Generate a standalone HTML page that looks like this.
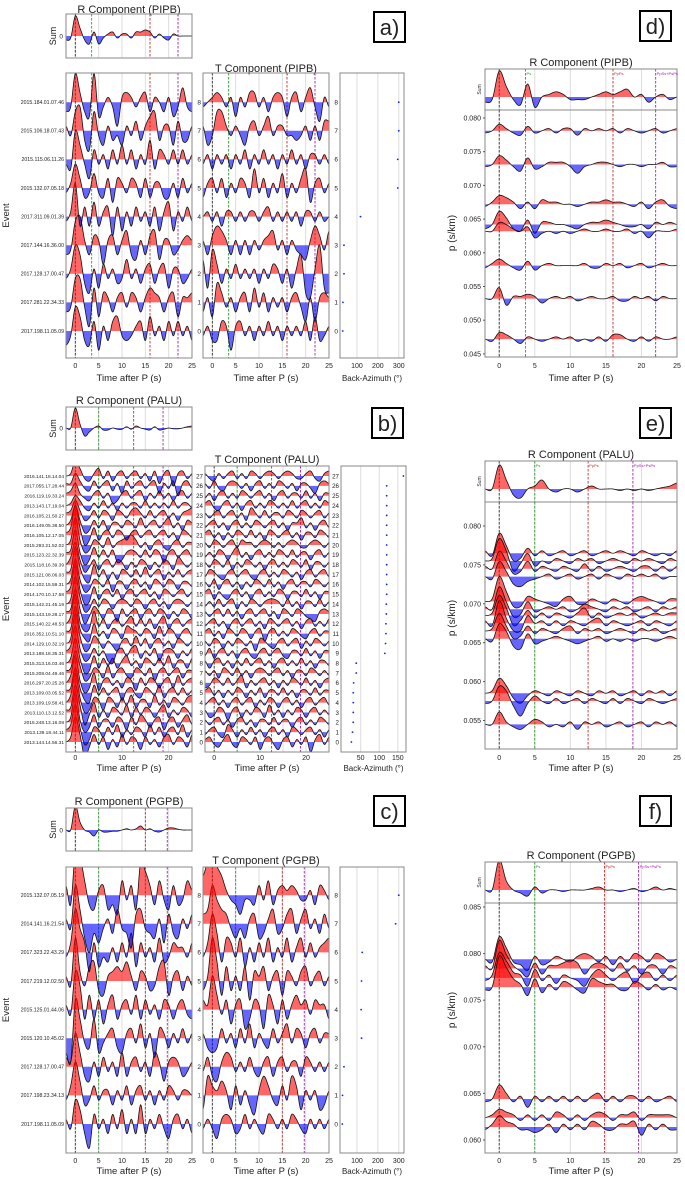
<!DOCTYPE html>
<html><head><meta charset="utf-8"><style>
html,body{margin:0;padding:0;background:#fff;}
svg{display:block;font-family:"Liberation Sans",sans-serif;}
</style></head><body>
<svg id="fig" width="685" height="1177" viewBox="0 0 685 1177" xmlns="http://www.w3.org/2000/svg"></svg>
<script>
// ---------- DATA (amplitudes sampled every 1 s from -2 s to 25 s) ----------
const aSum=[-1,-0.5,5,2,-1,-2,1,-2,-0.5,0.5,1,-0.5,0.5,0.5,-0.5,1,1,1.5,1,-0.5,0.5,-0.5,-1,0.5,0,0,0,0];
const aR=[
[-3,-1,5,3,-2,-3,2,-4,1,-2,2,3,-1,-2,-1,1,2,-2,3,-1,1,-2,2,-1,2,-1,1,-2],
[-2,-1,5,5,-1,-5,3,-3,2,1,-2,1,2,-1,2,1,-2,1,3,2,1,-2,1,2,-3,1,1,2],
[-1,1,6,4,-2,-4,1,-3,2,-1,1,-2,-1,3,-1,1,-2,1,2,-2,1,2,-3,1,1,-2,-1,1],
[-2,-1,5,6,1,-2,2,1,-4,1,2,-2,1,3,-2,-3,1,-2,2,3,-3,1,1,-2,-1,1,2,1],
[-1,1,7,-2,2,-2,3,-2,1,2,-4,2,-3,1,-2,2,-1,1,-2,2,-3,1,3,-3,1,-1,2,-1],
[-1,1,5,2,-2,-1,3,-1,-2,2,-3,2,1,-1,2,1,-2,2,-2,1,1,-2,-2,1,-2,2,-1,1],
[-1,-2,6,3,-1,-4,2,-1,1,-2,2,-1,3,-1,2,-2,1,-1,4,-2,2,1,-1,2,-1,2,-1,1],
[1,-1,4,5,-2,-4,4,-1,-3,1,-2,-1,-3,1,-1,2,-2,1,3,4,-2,1,1,-3,2,-2,-2,1],
[-2,-1,6,2,-2,-3,6,-3,-1,1,-1,-5,1,2,1,-1,1,2,-2,1,0,-2,1,-3,-1,3,-1,-2]];
const aT=[
[-1,1,-2,-2,2,1,-4,1,2,-1,1,-2,1,-1,2,-1,1,-2,1,-1,1,-1,2,-2,3,-2,-1,1],
[-2,1,-3,4,2,-1,1,-2,1,2,-2,3,-1,2,-2,1,-1,1,-2,1,2,-1,-4,1,-4,1,2,1],
[3,-3,5,2,-2,1,-1,2,-1,1,-1,1,-2,1,-1,2,1,-2,1,-3,1,4,-4,-5,1,6,-3,-4],
[1,-2,2,4,3,1,-2,1,-2,1,-2,1,-1,1,2,3,-1,1,-2,1,-1,-2,-3,1,4,2,-1,3],
[0,1,-1,1,-2,1,1,-1,1,-1,1,1,-1,1,2,-1,1,-1,1,-1,1,-2,1,1,-1,1,-1,0],
[-2,1,2,-1,2,-2,1,-1,2,1,-2,4,-1,2,-2,1,-1,3,-2,1,-1,2,4,-3,1,2,-1,1],
[-1,1,-2,1,-1,1,-2,1,-1,2,-2,1,-1,2,-1,1,-2,1,-1,2,-1,1,-2,1,1,-1,1,-1],
[1,-3,-1,4,4,1,-1,1,-1,-3,1,2,-1,1,3,-1,1,1,-1,-1,-2,-1,1,-2,1,-2,2,2],
[-1,0,1,2,1,-1,1,-3,1,-1,2,2,-1,1,-2,1,2,1,-3,1,2,-2,1,3,-1,-4,1,-1]];
const aEvents=["2017.198.11.05.09","2017.281.22.34.33","2017.128.17.00.47","2017.144.16.36.00","2017.311.09.01.39","2015.132.07.05.18","2015.115.06.11.26","2015.106.18.07.43","2015.184.01.07.46"];
const aBaz=[32,33,38,38,117,295,295,300,300];

const bSum=[0,0,5,1,-2,-1,0,0.5,-0.5,-0.5,0,-0.3,-0.3,0.3,-0.3,0.5,0,-0.3,-0.5,0.3,-0.5,-0.3,0,-0.2,-0.2,0,0.3,0.5];
const bR=[
[0,2,10,3,-6,-2,3,-1,2,-3,1,-2,3,-1,2,1,-3,2,-1,1,-2,2,3,-1,2,1,-2,3],
[1,3,11,2,-5,-3,2,1,-2,2,-1,3,-2,1,-1,2,1,-2,3,-1,2,-2,1,2,-1,3,-2,1],
[0,2,12,1,-4,-2,3,-2,1,1,-2,2,1,-3,2,-1,3,1,-2,1,2,-3,1,2,-2,1,3,-1],
[1,2,11,3,-5,-1,4,-2,1,-2,2,1,-1,3,-2,2,-1,2,1,-2,1,3,-2,1,-1,2,1,-2],
[0,3,12,2,-4,-3,2,1,-3,2,1,-2,2,-1,3,-2,1,1,-2,3,-1,1,-2,2,1,-1,2,3],
[1,2,10,2,-3,-4,3,-1,2,-1,1,2,-3,1,2,-1,-2,2,1,-1,3,-2,1,2,-1,2,-1,1],
[0,3,11,1,-4,-2,4,-3,1,2,-1,1,-2,2,1,-3,2,-1,2,1,-2,1,2,-2,3,-1,1,2],
[1,2,9,3,-3,-2,2,1,-2,3,-2,1,2,-1,-2,2,1,-1,2,-3,1,2,-1,1,2,-2,1,1],
[0,2,10,2,-4,-3,3,-2,2,-1,2,-2,1,3,-1,1,-2,2,1,-1,2,-1,3,-2,1,1,-2,2],
[1,3,11,2,-3,-2,2,-1,1,-3,-4,1,2,-1,2,3,-2,1,-1,2,-3,1,2,1,-2,1,-1,2],
[0,2,12,3,-3,-2,3,1,-2,1,-1,-3,1,2,-1,3,-1,2,-2,1,2,-1,1,-2,2,1,-1,1],
[1,2,11,2,-2,-3,4,-1,1,-2,2,1,-2,3,2,1,-1,2,1,-2,3,-1,2,1,-2,1,2,-1],
[0,3,12,1,-3,-2,5,-1,2,-2,1,2,-1,1,3,-1,2,-1,2,-2,1,3,-2,1,2,-1,1,2],
[1,2,10,2,-4,-1,3,1,-2,2,1,-3,2,-1,1,2,-2,1,2,-1,2,1,-2,1,-1,2,1,-2],
[0,2,11,3,-3,-2,2,-1,2,1,-2,1,2,1,-1,2,1,-2,1,2,-1,1,-2,1,2,1,-1,1],
[1,3,12,2,-4,-3,3,-2,1,2,-1,2,-2,1,2,-1,1,2,-1,1,-2,2,1,-1,1,2,-1,1],
[0,2,10,2,-3,-2,2,1,-1,2,-3,1,1,-2,1,2,-1,1,-2,2,1,-1,2,1,-2,1,1,-1],
[1,2,11,3,-2,-3,4,-1,2,-2,1,-2,2,1,-1,2,-1,3,-1,1,2,-2,1,-1,2,-1,1,2],
[0,3,9,2,-3,-1,2,-2,1,2,-1,2,1,-2,1,-1,2,1,-2,1,-1,2,1,-2,3,1,-1,1],
[1,2,10,1,-4,-2,3,-1,2,-1,2,-3,-2,1,2,1,-1,2,-1,2,1,-3,1,2,-1,1,2,-1],
[0,2,11,2,-3,-2,2,1,-1,3,-1,1,2,3,4,2,-1,1,-2,1,2,-1,-2,1,2,-1,1,1],
[1,3,12,3,-4,-2,3,-2,1,2,-1,2,1,-2,1,2,-1,1,2,-1,1,2,-1,1,-2,2,1,-1],
[0,2,8,2,-3,-2,2,-1,2,-2,1,1,-1,2,1,-1,3,-1,1,2,-1,1,3,-1,1,-2,2,1],
[1,2,6,2,-2,-1,2,-1,2,1,-2,2,1,-1,2,3,1,-1,2,-1,1,2,-1,1,-2,1,2,3],
[0,1,4,2,-1,-2,1,-1,2,-1,1,-2,1,-1,1,1,-1,2,-1,1,-1,1,-1,2,-1,1,1,-1],
[1,2,5,1,-1,-2,1,2,-1,1,-3,-2,1,2,-1,1,2,-2,1,-1,2,-1,1,-2,1,2,-1,1],
[1,1,5,2,-1,-2,2,-1,1,2,-2,1,-3,2,-1,1,2,-1,1,2,-3,1,-1,2,-4,1,2,-1],
[0,1,6,3,-1,-2,1,3,-1,2,-2,1,2,-1,1,2,-1,1,-2,2,-3,1,2,-4,1,2,-1,1]];
const bT=[
[1,2,-1,-2,1,3,-1,-2,2,1,-1,2,-3,1,2,-1,-3,1,2,-2,1,-1,2,-4,1,3,-1,2],
[-1,1,2,-1,-2,3,1,-2,1,-1,2,-1,1,-2,1,2,-1,1,-2,2,1,-1,1,2,-1,1,-2,1],
[1,-1,1,2,-1,1,-2,1,2,-1,1,-2,1,1,-1,2,-1,1,1,-2,1,2,-1,1,-1,2,1,-1],
[1,-2,-1,2,1,-3,1,2,-2,1,-1,2,1,-2,3,-1,1,-2,1,-1,2,1,-2,1,2,-1,1,-1],
[-1,1,2,-1,1,-2,1,2,-1,1,2,-2,1,-1,2,1,-2,1,2,-1,1,-2,1,2,-1,1,2,-1],
[1,2,-1,1,-2,1,-1,2,1,-2,1,-1,2,-2,1,1,-1,2,-1,1,-2,1,1,-1,2,-1,1,1],
[-2,-1,2,1,-1,2,-1,1,3,-2,1,-1,1,2,-1,1,-2,1,-1,2,1,-1,2,-1,1,-2,1,2],
[1,-1,1,-2,2,1,-1,2,-1,1,-2,1,2,1,-1,1,2,-1,1,-2,1,1,-1,2,1,-1,1,-1],
[1,-2,1,2,-1,1,-2,1,-1,2,-1,1,2,-1,1,-2,1,2,-1,1,-1,2,-1,1,-2,1,1,-1],
[-1,2,-2,1,2,-1,1,-2,1,2,-1,-2,1,2,-1,1,2,-1,-2,1,1,-1,2,-1,1,-2,1,1],
[1,-1,2,1,-2,1,-1,2,1,-1,1,-3,2,1,-1,-2,1,2,-1,1,2,-2,1,-1,2,1,-1,1],
[1,2,-1,1,-2,2,1,-1,2,1,-2,1,2,-3,1,2,-1,1,-1,2,1,-1,-2,1,2,-1,1,1],
[-1,1,2,-1,1,-2,1,2,-1,1,2,-1,1,-2,2,1,-1,1,2,-1,1,-2,1,2,-1,1,-1,2],
[1,-1,1,2,-1,2,-1,1,-2,1,2,-1,1,2,-1,1,-2,2,1,-1,2,1,-1,-2,-3,1,2,1],
[-1,1,-1,2,-1,1,2,-2,1,-1,2,1,-1,1,2,2,1,-1,2,-1,1,-2,1,1,-1,2,-1,1],
[1,2,-2,1,-1,-2,1,2,-1,1,-2,1,2,-1,1,-1,2,1,-2,1,1,-1,2,-1,1,-2,1,1],
[1,-1,2,-2,1,2,-1,1,-2,1,-1,2,1,-1,2,-1,1,-2,1,2,-1,1,1,-1,2,1,-1,1],
[-1,2,1,-1,-2,1,2,-1,1,2,-1,-2,1,2,-1,1,-1,2,1,-1,1,-2,1,2,-1,1,2,-1],
[1,-1,2,1,-1,2,-2,1,-1,2,1,-1,1,-2,1,2,-1,1,-1,2,1,-1,2,-2,1,1,-1,1],
[-1,1,-1,2,1,-2,1,3,-1,1,-2,1,2,-1,1,-1,2,1,-1,2,-1,1,1,-2,1,2,-1,1],
[1,-1,2,1,-1,1,2,-1,2,1,1,-1,1,2,1,-1,1,-1,1,2,1,-1,-1,1,2,1,-1,1],
[1,2,-1,1,-2,1,-1,2,1,-1,2,-1,1,-2,2,1,-1,1,2,-1,1,-2,1,1,-1,2,1,-1],
[-1,1,2,-1,1,-2,1,2,-1,1,-1,2,1,-1,1,2,-1,1,-2,1,1,3,-1,1,-2,1,2,-1],
[1,-1,1,2,-1,1,2,-1,1,-2,3,1,-1,2,-1,1,1,-1,2,1,-1,2,1,-1,1,2,-1,1],
[1,2,-1,-2,1,2,-1,1,-2,1,2,-1,1,-1,2,1,-1,1,-1,2,-1,1,2,-1,1,-1,2,1],
[-1,1,-2,1,2,-1,1,-1,2,1,-1,1,2,-1,1,-2,1,2,-1,1,1,-1,2,-1,1,-2,1,1],
[1,-1,2,-1,-2,1,2,1,-1,1,-2,1,2,-1,1,-1,2,1,-1,1,-2,1,1,-1,-3,1,2,1],
[1,-1,-2,1,-1,1,2,-1,1,-1,2,1,-1,1,2,1,-1,1,2,1,-1,-1,1,2,-1,-2,1,2]];
const bEvents=["2013.144.14.56.31","2013.139.18.44.11","2015.248.13.16.08","2013.110.13.12.52","2013.109.19.58.41","2013.109.03.05.52","2016.297.20.25.26","2015.208.04.49.46","2015.313.16.03.46","2013.188.18.35.31","2014.129.10.32.19","2016.352.10.51.10","2015.140.22.48.53","2015.143.19.28.17","2015.142.21.45.19","2014.170.10.17.58","2014.102.15.59.31","2015.121.08.06.03","2015.118.16.39.39","2015.123.22.32.39","2015.293.21.52.02","2016.105.12.17.05","2016.149.05.38.50","2016.105.21.50.27","2013.143.17.19.04","2016.119.19.33.24","2017.055.17.28.44","2016.141.18.14.04"];
const bBaz=[25,28,30,30,30,30,31,38,38,115,117,118,118,119,119,120,120,120,120,120,120,120,120,120,120,120,120,165];

const cSum=[0,0,6,2,0,-0.5,-1.5,0,-0.5,-0.5,-0.3,-0.3,0,0.3,0,0.3,1,0,0.3,-0.3,-0.5,0,0.5,0.5,0.2,0,0,0];
const cR=[
[1,-1,5,3,-2,-5,2,-1,1,-2,2,-1,3,-2,1,-2,4,-2,1,-1,2,-1,-3,1,2,-1,1,-2],
[-1,2,7,3,-2,-1,2,-1,1,1,-2,1,-1,2,-2,1,2,-1,1,-2,1,-1,2,1,-1,1,1,0],
[2,1,7,3,-2,-3,1,-2,2,-1,1,-2,3,-2,1,2,-1,1,-2,3,1,-3,1,2,1,-2,-1,1],
[-3,-5,8,4,-1,-2,4,-3,-1,1,2,-2,-3,1,2,-1,3,-2,1,-4,2,1,-2,1,-1,2,-1,1],
[1,-1,8,5,-2,3,-2,2,-3,1,3,-2,1,2,-1,3,-2,2,-1,1,-2,2,1,-2,1,2,-1,-2],
[1,-1,9,2,-1,3,4,-2,-3,1,2,3,2,4,1,-2,2,1,-2,-1,3,4,-3,1,2,-2,1,-1],
[-1,2,9,5,2,-4,2,-3,-1,-2,1,-2,2,-1,4,-3,2,-1,1,-2,3,-2,-1,2,1,1,-1,2],
[1,-1,8,3,-3,-6,-2,-4,-1,1,-2,3,-1,-2,-5,2,3,-1,-2,-3,1,-4,2,-2,-3,1,-1,2],
[2,-2,9,8,3,-2,-3,1,2,-3,-2,-4,3,-1,2,-3,7,5,2,-2,3,-1,-3,2,-2,-1,3,1]];
const cT=[
[-1,1,-1,-3,1,2,1,-2,-1,2,-1,1,-1,-2,2,1,-1,1,-1,2,1,-1,-2,1,-1,1,-1,1],
[-3,4,2,1,3,1,-3,2,-2,1,-2,-4,1,4,2,-1,-2,2,-1,4,2,-3,1,-1,1,-3,-2,1],
[-1,2,-2,-3,1,3,2,-1,1,-1,2,-1,-2,1,2,-2,1,2,-1,1,1,-2,2,1,-1,1,-1,1],
[1,-2,-3,-2,2,-1,1,-2,2,-1,3,-2,1,-1,-2,2,-1,1,3,-1,2,1,-2,1,2,-1,1,1],
[2,1,7,3,-1,2,-3,1,2,-4,-2,2,1,-4,3,1,-3,2,-2,1,3,1,2,-1,2,1,1,-2],
[-2,1,9,4,-3,3,-2,1,-2,3,-4,2,1,3,-2,1,2,-3,2,1,-1,2,3,-1,1,2,-1,1],
[-1,2,8,4,-2,3,2,-1,3,-3,1,-2,2,-1,3,-2,1,-1,3,-2,1,3,-1,2,-1,1,2,3],
[2,3,8,5,3,2,-1,-3,-1,-3,1,2,-3,-2,1,3,-2,-1,2,3,-2,1,3,-1,1,-2,2,-1],
[4,7,9,6,4,1,-1,-2,-4,-1,-1,-2,2,-1,3,-2,1,2,1,2,1,-1,-1,1,-2,2,1,-1]];
const cEvents=["2017.198.11.05.09","2017.198.23.34.13","2017.128.17.00.47","2015.120.10.45.02","2015.125.01.44.06","2017.219.12.02.50","2017.323.22.43.29","2014.141.16.21.54","2015.132.07.05.19"];
const cBaz=[30,31,38,122,120,122,125,285,300];

const dSum=[-2,-1,10,4,-1,-3,5,-4,0,1,2,1,-1,-1,-1,0,1,2,1,2,3,0,1,-2,0,1,-1,0];
const dP=[0.0781,0.0731,0.0672,0.0642,0.0632,0.0581,0.0532,0.0472];
const dR=[
[-1,0,3,1,-1,-2,2,-1,0,1,-1,1,1,-2,1,0,1,0,1,-1,1,0,-1,0,1,-1,0,1],
[-1,0,4,2,-1,-3,3,-2,-1,1,1,1,-1,-4,-1,0,1,1,0,-1,0,0,-1,0,0,1,-1,-1],
[-1,1,4,3,1,-2,1,-2,2,1,1,0,0,-1,0,1,1,2,1,1,0,-1,1,-2,1,2,-1,-2],
[-2,0,6,3,-2,-3,2,-4,1,1,0,0,-1,-2,0,1,1,2,1,0,-1,-1,0,-2,1,0,1,0],
[0,0,4,3,1,0,2,-3,-1,0,-1,0,-1,0,1,0,0,1,0,0,1,-1,0,-3,0,0,0,1],
[-1,1,3,1,-1,-2,2,-2,0,1,0,0,0,0,1,-1,-1,1,0,1,-1,0,1,-1,0,1,0,0],
[0,0,5,-3,1,1,2,1,-2,0,1,0,1,-1,0,1,0,0,1,-1,-1,1,0,1,-1,1,0,0],
[0,-1,3,2,0,-2,1,0,-1,0,1,0,1,-1,0,-1,1,-1,2,2,0,-1,1,-1,1,0,0,1]];
const dTicks=[0.045,0.050,0.055,0.060,0.065,0.070,0.075,0.080];

const eSum=[0,0,8,3,-2,-3,0,1,3,0,-1,0,0,-1,0,1,0,0,0,-0.5,0,-0.5,0,-0.5,0,0.5,1,2];
const eP=[0.0765,0.0755,0.0745,0.0735,0.0703,0.0693,0.0685,0.0675,0.0665,0.0655,0.0585,0.0575,0.0545];
const eR=[
[1,-1,8,3,-3,-2,2,-1,1,-1,0,1,-1,0,1,-1,0,1,0,1,0,-1,1,0,-1,0,-1,1],
[0,1,9,4,-4,-1,3,-2,0,-1,1,0,-1,1,0,1,-1,0,1,0,-1,1,0,1,0,-1,1,0],
[1,0,7,3,-2,-1,3,-1,1,0,-1,1,0,-1,2,-1,1,-1,0,1,0,-1,1,1,-1,1,-1,1],
[0,-1,6,2,-3,-4,-2,-1,0,1,-1,0,1,-1,0,1,-1,1,0,-1,1,0,1,0,1,-1,0,0],
[0,1,10,4,-2,-2,2,1,0,-1,-2,1,2,-1,-1,1,0,-1,1,0,-1,1,2,1,0,-1,1,1],
[1,0,9,3,-3,-2,3,-1,0,1,0,1,-1,0,2,1,0,-1,1,0,1,-1,0,1,-1,1,0,1],
[0,1,8,3,-4,-2,2,-1,1,-1,1,0,-1,1,3,-1,1,-1,0,1,0,1,-1,0,1,0,1,1],
[1,-1,9,2,-3,-3,3,0,1,-1,1,-1,1,0,-1,1,2,-1,1,0,-1,0,1,-1,1,0,-1,1],
[0,1,7,2,-3,-2,2,-1,1,0,-1,1,2,-1,1,0,1,-1,0,1,0,-1,1,0,1,-1,0,1],
[0,-1,6,3,-3,-4,2,-2,-1,0,1,0,-1,-2,-1,0,1,-1,0,-1,0,-1,0,0,-1,0,1,0],
[0,1,6,3,-2,-4,-1,1,0,-1,1,0,-1,1,0,-1,1,0,1,-1,0,1,-1,1,0,1,-1,1],
[-1,0,6,4,-2,-6,-1,2,0,-1,1,-1,0,1,-1,1,0,-1,1,-1,1,0,-1,1,0,-1,0,1],
[0,0,5,1,-1,-2,0,2,1,-1,0,-1,1,-2,1,0,1,-1,0,1,-1,0,1,-1,1,0,1,-1]];
const eTicks=[0.055,0.060,0.065,0.070,0.075,0.080];

const fSum=[0,0,10,3,0,-1,-2,1,-1,0,0,-0.5,0,0,0,0.5,1,0,0,-0.5,0,0.5,-0.5,0,1,0,0.5,0];
const fP=[0.0794,0.0784,0.0774,0.0764,0.0644,0.0624,0.0614];
const fR=[
[0,-1,8,4,-1,-2,-4,1,-2,-1,1,0,-1,1,2,1,-1,1,-2,1,-1,2,1,-1,2,1,-1,0],
[1,0,10,5,1,-1,-3,2,-2,1,1,2,3,2,-2,1,2,1,-1,2,-1,1,-2,1,1,-2,1,0],
[-1,1,9,6,2,1,-3,3,-1,1,-2,1,0,-1,-3,1,3,1,-1,1,2,-2,1,2,-1,1,-1,1],
[-1,0,11,7,3,1,-3,3,-2,1,-1,2,1,-1,-2,3,2,1,1,-1,-1,2,1,-1,1,-1,0,-1],
[-1,0,5,2,-1,1,-3,1,-1,1,-1,1,-1,1,-1,1,2,-1,1,-1,1,1,-1,1,-1,0,1,-1],
[0,1,3,2,1,-1,1,-1,1,-1,2,1,-1,1,-1,1,2,1,-1,1,1,2,-1,1,1,1,1,0],
[-1,1,4,2,1,-1,-1,-2,-1,1,-2,1,-1,1,-1,2,1,-1,-1,1,1,2,-3,1,-1,1,-1,-1]];
const fTicks=[0.060,0.065,0.070,0.075,0.080,0.085];

const markersA=[0,3.5,16,22];
const markersB=[0,5,12.5,18.8];
const markersC=[0,5,15,19.7];
const markersD=[0,3.7,16,22];
const markersE=[0,5,12.5,18.8];
const markersF=[0,5,14.8,19.6];
const timeTicks5=[0,5,10,15,20,25];
const timeTicks10=[0,10,20];

// ---------- RENDERING ----------
const NS="http://www.w3.org/2000/svg";
const svg=document.getElementById("fig");
const T0=-2,T1=25;
const MCOL=["#333","#2a9a2a","#c03030","#a020b0"];
let clipN=0;
function mk(tag,attrs,parent){const e=document.createElementNS(NS,tag);for(const k in attrs)e.setAttribute(k,attrs[k]);(parent||svg).appendChild(e);return e;}
function txt(s,x,y,size,anchor,parent,rot){const e=mk("text",{x:x,y:y,"font-size":size,"text-anchor":anchor||"middle",fill:"#222"},parent);if(rot)e.setAttribute("transform","rotate(-90 "+x+" "+y+")");e.textContent=s;return e;}
function xScale(L,W){return t=>L+(t-T0)/(T1-T0)*W;}
function interp(a,t){const u=t-T0;let i=Math.floor(u);if(i>a.length-2)i=a.length-2;if(i<0)i=0;const f=u-i;const p0=a[Math.max(i-1,0)],p1=a[i],p2=a[i+1],p3=a[Math.min(i+2,a.length-1)];return 0.5*(2*p1+(-p0+p2)*f+(2*p0-5*p1+4*p2-p3)*f*f+(-p0+3*p1-3*p2+p3)*f*f*f);}
function axesBox(x,y,w,h,name){
  const g=mk("g",{});
  
  
  const id="clip"+(clipN++);
  const cp=mk("clipPath",{id:id},g);mk("rect",{x:x,y:y,width:w,height:h},cp);
  const inner=mk("g",{"clip-path":"url(#"+id+")"},g);
  return {g:g,inner:inner,x:x,y:y,w:w,h:h};
}
function frame(ax){const r=mk("rect",{x:ax.x,y:ax.y,width:ax.w,height:ax.h,fill:"none",stroke:"#888","stroke-width":1},ax.g);}
function vgrid(ax,xs,ticks){ticks.forEach(t=>{const l=mk("line",{x1:xs(t),x2:xs(t),y1:ax.y,y2:ax.y+ax.h,stroke:"#ddd","stroke-width":1},ax.inner);});}
function markers(ax,xs,ms){ms.forEach((m,i)=>{const l=mk("line",{x1:xs(m),x2:xs(m),y1:ax.y,y2:ax.y+ax.h,stroke:MCOL[i],"stroke-width":0.9,"stroke-dasharray":"2.5,1.5"},ax.inner);});}
function trace(parent,arr,xs,y0,unit,name){
  let pos="M"+xs(T0)+","+y0,neg=pos,ln="";
  for(let t=T0;t<=T1+1e-6;t+=0.1){const v=interp(arr,t);const X=xs(t).toFixed(2);const Y=y0-v*unit;
    pos+=" L"+X+","+Math.min(Y,y0).toFixed(2);neg+=" L"+X+","+Math.max(Y,y0).toFixed(2);ln+=(ln?" L":"M")+X+","+Y.toFixed(2);}
  pos+=" L"+xs(T1)+","+y0+" Z";neg+=" L"+xs(T1)+","+y0+" Z";
  const g=mk("g",{},parent);
  
  
  mk("path",{d:pos,fill:"#ff0000","fill-opacity":0.6},g);
  mk("path",{d:neg,fill:"#0000ff","fill-opacity":0.6},g);
  mk("path",{d:ln,fill:"none",stroke:"#111","stroke-width":0.8},g);
}
function xticks(xs,ticks,y){ticks.forEach(t=>{const e=txt(String(t),xs(t),y,7);});}
function label(s,x,y){
  const g=mk("g",{});
  
  
  mk("rect",{x:x,y:y,width:31,height:30,fill:"#fff",stroke:"#000","stroke-width":2},g);
  txt(s,x+15.5,y+23,22,"middle",g);
}

// Left panels (a, b, c)
function leftPanel(cfg){
  const L=66,W=126,TL=cfg.tL,TW=cfg.tW,BL=cfg.bL,BW=cfg.bW;
  const xsR=xScale(L,W),xsT=xScale(TL,TW);
  // title
  const t1=txt("R Component ("+cfg.st+")",129,cfg.titleY,11);
  // sum
  const s=axesBox(L,cfg.sumY,W,cfg.sumH,"sum-axes");
  vgrid(s,xsR,timeTicks5);markers(s,xsR,cfg.m);
  trace(s.inner,cfg.sum,xsR,cfg.sumBase,cfg.sumUnit,"sum-trace");frame(s);
  txt("0",L-3,cfg.sumBase+2.5,6.5,"end");
  const sl=txt("Sum",L-10,cfg.sumY+cfg.sumH/2,9,"middle",null,true);
  // R main
  const rowY=r=>cfg.row0Y-r*cfg.rowH;
  const r=axesBox(L,cfg.mY,W,cfg.mH,"r-component-axes");
  vgrid(r,xsR,timeTicks5);markers(r,xsR,cfg.m);
  for(let i=0;i<cfg.R.length;i++)trace(r.inner,cfg.R[i],xsR,rowY(i),cfg.unit,"r-trace-"+i);
  frame(r);
  cfg.ev.forEach((e,i)=>{const t=txt(e,L-2,rowY(i)+1.8,cfg.evFont,"end");});
  xticks(xsR,cfg.tt,cfg.tickY);
  const xl=txt("Time after P (s)",129,cfg.xlY,9.5);
  const yl=txt("Event",9,(cfg.mY+cfg.mH/2),9.5,"middle",null,true);
  // T
  const t2=txt("T Component ("+cfg.st+")",TL+TW/2,cfg.tTitleY,11);
  const tt=axesBox(TL,cfg.mY,TW,cfg.mH,"t-component-axes");
  vgrid(tt,xsT,timeTicks5);markers(tt,xsT,cfg.m);
  for(let i=0;i<cfg.T.length;i++)trace(tt.inner,cfg.T[i],xsT,rowY(i),cfg.unit,"t-trace-"+i);
  frame(tt);
  for(let i=0;i<cfg.T.length;i++){const n=txt(String(i),TL-2,rowY(i)+2.3,cfg.numFont,"end");}
  xticks(xsT,cfg.tt,cfg.tickY);
  const xl2=txt("Time after P (s)",TL+TW/2,cfg.xlY,9.5);
  // BAZ
  const bs=b=>BL+(b-cfg.bMin)/(cfg.bMax-cfg.bMin)*BW;
  const ba=axesBox(BL,cfg.mY,BW,cfg.mH,"back-azimuth-axes");
  cfg.bt.forEach(b=>{const l=mk("line",{x1:bs(b),x2:bs(b),y1:cfg.mY,y2:cfg.mY+cfg.mH,stroke:"#ddd"},ba.inner);});
  cfg.baz.forEach((b,i)=>{const c=mk("circle",{cx:bs(b),cy:rowY(i),r:0.9,fill:"#1020ff"},ba.inner);});
  frame(ba);
  for(let i=0;i<cfg.baz.length;i++){const n=txt(String(i),BL-2,rowY(i)+2.3,cfg.numFont,"end");}
  cfg.bt.forEach(b=>{const e=txt(String(b),bs(b),cfg.tickY,7);});
  const bl=txt("Back-Azimuth (°)",BL+BW/2,cfg.xlY,8);
}

leftPanel({st:"PIPB",titleY:13,sumY:14,sumH:44,sumBase:36,sumUnit:4,sum:aSum,mY:73,mH:285,row0Y:331,rowH:28.6,unit:4.8,
  R:aR,T:aT,ev:aEvents,evFont:5.2,numFont:6.5,tL:203,tW:126,bL:340,bW:64,bMin:19,bMax:325,bt:[100,200,300],baz:aBaz,
  m:markersA,tt:timeTicks5,tickY:368,xlY:381,tTitleY:72});
leftPanel({st:"PALU",titleY:404,sumY:407,sumH:43,sumBase:428,sumUnit:4,sum:bSum,mY:466,mH:286,row0Y:742,rowH:9.85,unit:2.5,
  R:bR,T:bT,ev:bEvents,evFont:4.8,numFont:6.2,tL:205,tW:124,bL:341,bW:65,bMin:-3,bMax:172,bt:[50,100,150],baz:bBaz,
  m:markersB,tt:timeTicks10,tickY:760,xlY:771,tTitleY:463});
leftPanel({st:"PGPB",titleY:805,sumY:808,sumH:43,sumBase:830,sumUnit:4,sum:cSum,mY:867,mH:286,row0Y:1124,rowH:28.6,unit:4.8,
  R:cR,T:cT,ev:cEvents,evFont:5.2,numFont:6.5,tL:203,tW:126,bL:340,bW:64,bMin:19,bMax:325,bt:[100,200,300],baz:cBaz,
  m:markersC,tt:timeTicks5,tickY:1163,xlY:1174,tTitleY:864});

// Right panels (d, e, f)
function rightPanel(cfg){
  const L=485,W=192,xs=xScale(L,W);
  const py=p=>cfg.refY+(cfg.refP-p)/0.005*cfg.pxPer;
  const t=txt("R Component ("+cfg.st+")",581,cfg.titleY,11);
  const s=axesBox(L,cfg.sumY,W,cfg.sumH,"sum-axes");
  vgrid(s,xs,timeTicks5);markers(s,xs,cfg.m);
  trace(s.inner,cfg.sum,xs,cfg.sumBase,cfg.sumUnit,"sum-trace");frame(s);
  const names=["Ps","PpPs","PpSs+PsPs"];
  names.forEach((n,i)=>{const e=txt(n,xs(cfg.m[i+1])+1,cfg.sumY+6,4,"start");e.setAttribute('fill',MCOL[i+1]);});
  const sl=txt("Sum",L-4,cfg.sumY+cfg.sumH/2,5,"middle",null,true);
  const m=axesBox(L,cfg.mY,W,cfg.mH,"slowness-axes");
  vgrid(m,xs,timeTicks5);markers(m,xs,cfg.m);
  cfg.P.forEach((p,i)=>trace(m.inner,cfg.R[i],xs,py(p),cfg.unit,"slowness-trace-"+i));
  frame(m);
  cfg.yt.forEach(p=>{const e=txt(p.toFixed(3),L-4,py(p)+2.5,7,"end");
    mk("line",{x1:L-2,x2:L,y1:py(p),y2:py(p),stroke:"#555"});});
  xticks(xs,timeTicks5,cfg.tickY);
  const xl=txt("Time after P (s)",581,cfg.xlY,9.5);
  const yl=txt("p (s/km)",455,cfg.ylY,10,"middle",null,true);
}
rightPanel({st:"PIPB",titleY:66,sumY:69,sumH:41,sumBase:97,sumUnit:2.6,sum:dSum,mY:110,mH:247,refY:118,refP:0.080,pxPer:33.7,
  P:dP,R:dR,unit:2.2,yt:dTicks,m:markersD,tickY:368,xlY:381,ylY:233});
rightPanel({st:"PALU",titleY:458,sumY:461,sumH:41,sumBase:489,sumUnit:3,sum:eSum,mY:502,mH:247,refY:526,refP:0.080,pxPer:38.9,
  P:eP,R:eR,unit:2.5,yt:eTicks,m:markersE,tickY:760,xlY:771,ylY:618});
rightPanel({st:"PGPB",titleY:859,sumY:862,sumH:41,sumBase:890,sumUnit:3,sum:fSum,mY:903,mH:250,refY:907,refP:0.085,pxPer:46.6,
  P:fP,R:fR,unit:2.8,yt:fTicks,m:markersF,tickY:1163,xlY:1174,ylY:1010});

label("a)",374,12);label("b)",372,408);label("c)",374,796);
label("d)",640,11);label("e)",640,408);label("f)",640,796);
</script>
</body></html>
